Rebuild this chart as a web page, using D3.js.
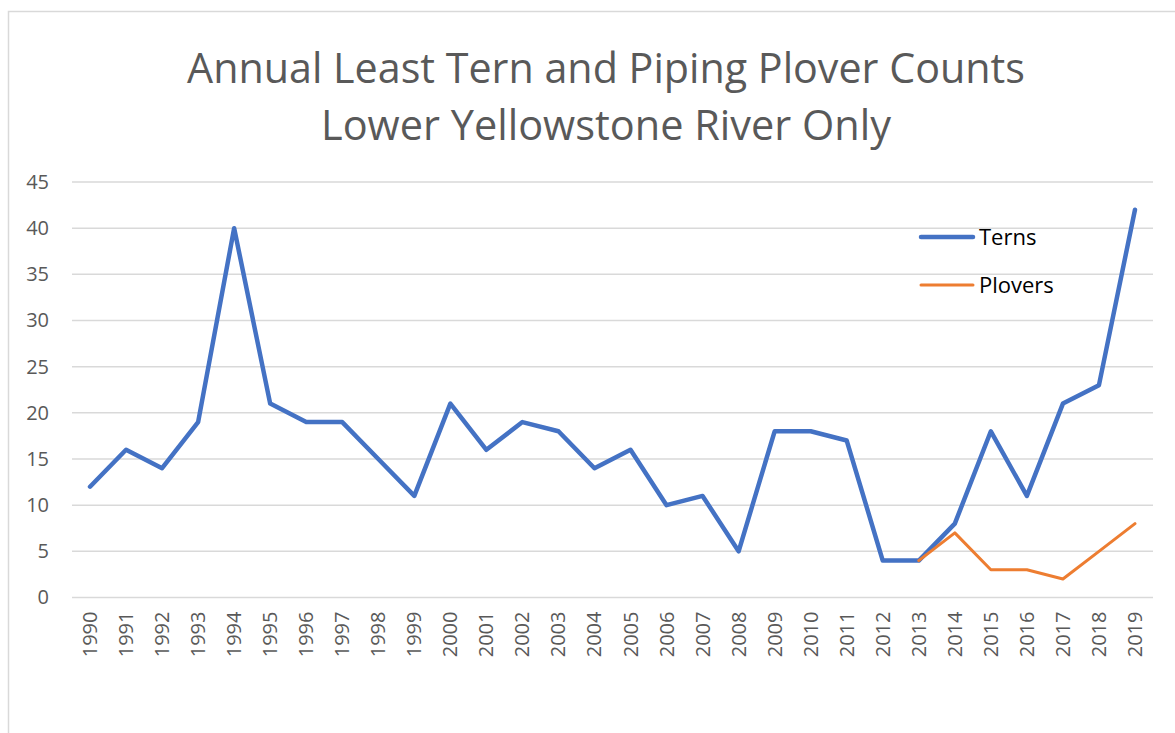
<!DOCTYPE html>
<html>
<head>
<meta charset="utf-8">
<script src="https://cdn.jsdelivr.net/npm/d3@7"></script>
<style>
  html, body { margin: 0; padding: 0; background: #fff; }
  svg { display: block; }
</style>
</head>
<body>
<svg id="chart" width="1175" height="733"></svg>
<script>
const years = ["1990","1991","1992","1993","1994","1995","1996","1997","1998","1999","2000","2001","2002","2003","2004","2005","2006","2007","2008","2009","2010","2011","2012","2013","2014","2015","2016","2017","2018","2019"];
const terns = [12,16,14,19,40,21,19,19,15,11,21,16,19,18,14,16,10,11,5,18,18,17,4,4,8,18,11,21,23,42];
const ploverYears = ["2013","2014","2015","2016","2017","2018","2019"];
const plovers = [4,7,3,3,2,5,8];
const yTicks = [0,5,10,15,20,25,30,35,40,45];
const titleLines = ["Annual Least Tern and Piping Plover Counts", "Lower Yellowstone River Only"];
const seriesNames = ["Terns", "Plovers"];

const FONT = "'Open Sans', 'Liberation Sans', sans-serif";
const svg = d3.select("#chart");

// outer border
svg.append("rect")
  .attr("x", 8.5).attr("y", 11.5)
  .attr("width", 1300).attr("height", 900)
  .attr("fill", "none").attr("stroke", "#d9d9d9").attr("stroke-width", 1.5);

const pLeft = 72, pRight = 1153, pTop = 182, pBottom = 597.5;

const x = d3.scaleBand().domain(years).range([pLeft, pRight]);
const y = d3.scaleLinear().domain([0, 45]).range([pBottom, pTop]);

// gridlines
svg.append("g").selectAll("line").data(yTicks).join("line")
  .attr("x1", pLeft).attr("x2", pRight)
  .attr("y1", d => y(d)).attr("y2", d => y(d))
  .attr("stroke", "#d9d9d9").attr("stroke-width", 1.5);

// y axis labels
const yAxis = svg.append("g")
  .attr("transform", `translate(${pLeft - 23},0)`)
  .call(d3.axisLeft(y).tickValues(yTicks).tickSize(0).tickPadding(0));
yAxis.select(".domain").remove();
yAxis.selectAll("text")
  .attr("font-family", FONT).attr("font-size", 20).attr("fill", "#595959");

// x axis labels
const xAxis = svg.append("g")
  .attr("transform", `translate(0,${pBottom})`)
  .call(d3.axisBottom(x).tickSize(0).tickPadding(0));
xAxis.select(".domain").remove();
xAxis.selectAll("text")
  .attr("font-family", FONT).attr("font-size", 20).attr("fill", "#595959")
  .attr("transform", "rotate(-90)")
  .attr("text-anchor", "end")
  .attr("x", -14).attr("y", 0).attr("dy", "0.35em");

const cx = d => x(d) + x.bandwidth() / 2;

const line = d3.line().x(d => cx(d[0])).y(d => y(d[1]));

svg.append("path")
  .datum(years.map((yr, i) => [yr, terns[i]]))
  .attr("d", line)
  .attr("fill", "none").attr("stroke", "#4472C4").attr("stroke-width", 4.5)
  .attr("stroke-linejoin", "round").attr("stroke-linecap", "round");

svg.append("path")
  .datum(ploverYears.map((yr, i) => [yr, plovers[i]]))
  .attr("d", line)
  .attr("fill", "none").attr("stroke", "#ED7D31").attr("stroke-width", 3)
  .attr("stroke-linejoin", "round").attr("stroke-linecap", "round");

// title
const titleY = [83, 140];
const titleW = [838, 570];
titleLines.forEach((t, i) => {
  const el = svg.append("text")
    .attr("x", 606).attr("y", titleY[i])
    .attr("text-anchor", "middle")
    .attr("font-family", FONT).attr("font-size", 40)
    .attr("fill", "#595959")
    .text(t);
  const w = el.node().getComputedTextLength();
  if (w > 0) el.attr("font-size", 40 * titleW[i] / w);
});

// legend
const legColors = ["#4472C4", "#ED7D31"];
const legWidths = [4.5, 3];
const legY = [237, 285];
seriesNames.forEach((n, i) => {
  svg.append("line")
    .attr("x1", 921).attr("x2", 973)
    .attr("y1", legY[i]).attr("y2", legY[i])
    .attr("stroke", legColors[i]).attr("stroke-width", legWidths[i])
    .attr("stroke-linecap", "round");
  svg.append("text")
    .attr("x", 979).attr("y", legY[i]).attr("dy", "0.35em")
    .attr("font-family", FONT).attr("font-size", 22).attr("fill", "#000")
    .text(n);
});
</script>
</body>
</html>
